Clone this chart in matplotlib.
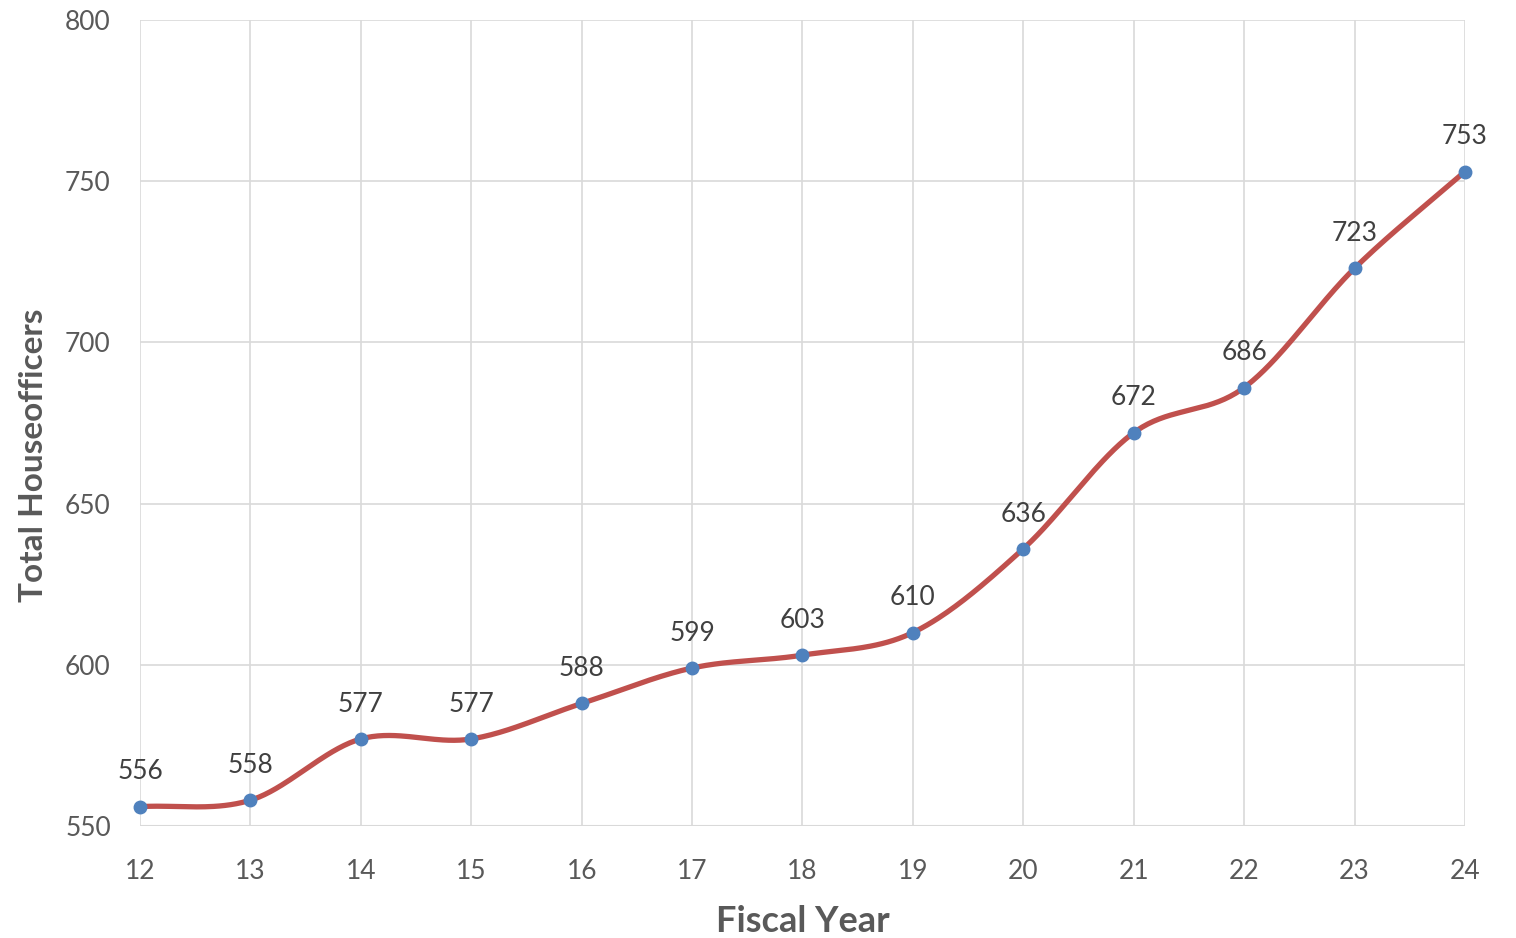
import numpy as np
import matplotlib
matplotlib.use("Agg")
import matplotlib.pyplot as plt

years = [12, 13, 14, 15, 16, 17, 18, 19, 20, 21, 22, 23, 24]
houseofficers = [556, 558, 577, 577, 588, 599, 603, 610, 636, 672, 686, 723, 753]
yticks = [550, 600, 650, 700, 750, 800]

plt.rcParams['font.family'] = ['Lato', 'DejaVu Sans']

def catmull_rom(x, y, n=40):
    x = np.asarray(x, float); y = np.asarray(y, float)
    px = np.concatenate([[2*x[0]-x[1]], x, [2*x[-1]-x[-2]]])
    py = np.concatenate([[2*y[0]-y[1]], y, [2*y[-1]-y[-2]]])
    xs, ys = [], []
    t = np.linspace(0, 1, n)
    for i in range(1, len(px)-2):
        for P, out in ((px, xs), (py, ys)):
            p0, p1, p2, p3 = P[i-1], P[i], P[i+1], P[i+2]
            out.append(0.5*((2*p1) + (-p0+p2)*t + (2*p0-5*p1+4*p2-p3)*t**2 + (-p0+3*p1-3*p2+p3)*t**3))
    return np.concatenate(xs), np.concatenate(ys)

fig = plt.figure(figsize=(15.16, 9.38), dpi=100)
ax = fig.add_axes([140/1516, 1-826/938, (1465-140)/1516, (826-20)/938])

sx, sy = catmull_rom(years, houseofficers)
ax.plot(sx, sy, color='#C0504D', lw=3.8, solid_capstyle='round', zorder=3, clip_on=False)
ax.plot(years, houseofficers, 'o', color='#4F81BD', ms=9, zorder=4, clip_on=False)

for x, y in zip(years, houseofficers):
    ax.annotate(str(y), (x, y), xytext=(0, 16), textcoords='offset points',
                ha='center', va='bottom', fontsize=19, color='#404040')

ax.set_xlim(12, 24)
ax.set_ylim(550, 800)
ax.set_xticks(years)
ax.set_yticks(yticks)
ax.grid(True, color='#D9D9D9', lw=1.2)
ax.set_axisbelow(True)
for s in ax.spines.values():
    s.set_visible(False)
ax.axhline(550, color='#D9D9D9', lw=1.5, zorder=1)
ax.tick_params(length=0, labelsize=19, labelcolor='#595959')
ax.tick_params(axis='x', pad=24)
ax.tick_params(axis='y', pad=21)
ax.set_xlabel('Fiscal Year', fontsize=26, fontweight='bold', color='#595959')
ax.set_ylabel('Total Houseofficers', fontsize=24, fontweight='bold', color='#595959')
ax.xaxis.set_label_coords(0.5, -(921-826)/806, transform=None) if False else None
ax.xaxis.set_label_coords(0.5, -(921-826)/806)
ax.xaxis.label.set_va('center')
ax.yaxis.set_label_coords((33-140)/1325, (826-455)/806)
ax.yaxis.label.set_va('center')
ax.yaxis.label.set_ha('center')

fig.savefig('out.png', dpi=100)
